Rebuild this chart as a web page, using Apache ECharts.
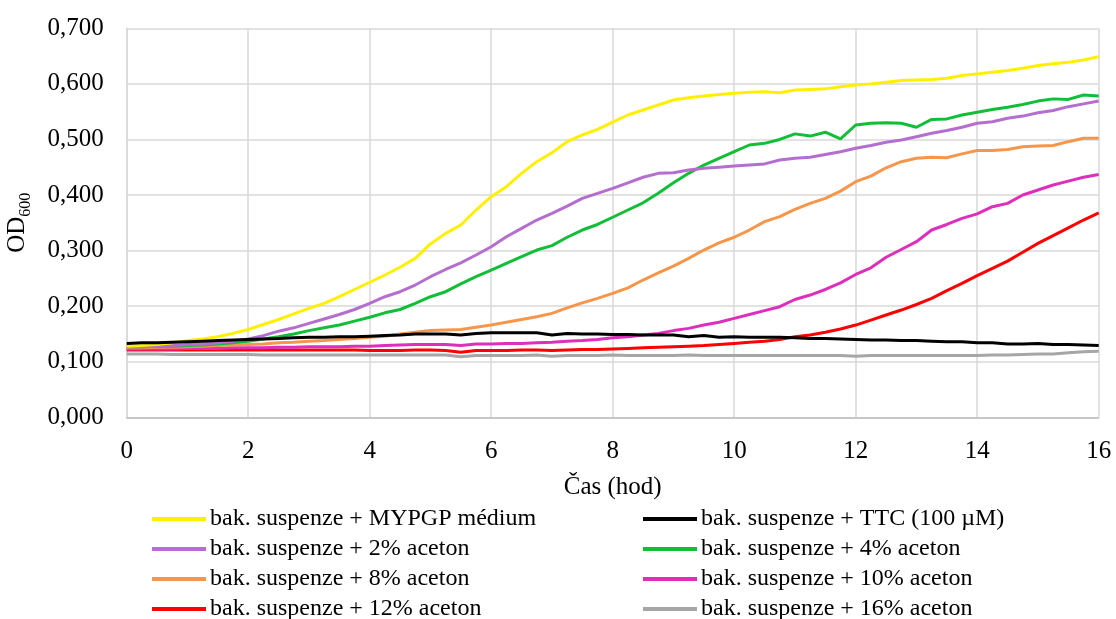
<!DOCTYPE html>
<html>
<head>
<meta charset="utf-8">
<script src="https://cdn.jsdelivr.net/npm/echarts@6/dist/echarts.min.js"></script>
<style>html,body{margin:0;padding:0;background:#fff}#c{width:1116px;height:619px}</style>
</head>
<body>
<div id="c"></div>
<script>
const times = [0,0.25,0.5,0.75,1,1.25,1.5,1.75,2,2.25,2.5,2.75,3,3.25,3.5,3.75,4,4.25,4.5,4.75,5,5.25,5.5,5.75,6,6.25,6.5,6.75,7,7.25,7.5,7.75,8,8.25,8.5,8.75,9,9.25,9.5,9.75,10,10.25,10.5,10.75,11,11.25,11.5,11.75,12,12.25,12.5,12.75,13,13.25,13.5,13.75,14,14.25,14.5,14.75,15,15.25,15.5,15.75,16];

const mypgp = [0.128,0.129,0.131,0.134,0.138,0.141,0.145,0.151,0.158,0.167,0.176,0.186,0.196,0.205,0.217,0.230,0.243,0.256,0.270,0.286,0.312,0.331,0.346,0.373,0.397,0.415,0.439,0.460,0.476,0.496,0.508,0.518,0.531,0.544,0.553,0.562,0.571,0.575,0.578,0.581,0.583,0.585,0.586,0.584,0.589,0.590,0.591,0.595,0.598,0.600,0.603,0.606,0.607,0.608,0.610,0.615,0.618,0.621,0.624,0.628,0.633,0.636,0.639,0.643,0.649];
const ttc = [0.133,0.134,0.134,0.135,0.136,0.137,0.138,0.139,0.140,0.141,0.142,0.143,0.144,0.144,0.145,0.145,0.146,0.147,0.148,0.150,0.150,0.150,0.148,0.151,0.152,0.152,0.152,0.152,0.148,0.151,0.150,0.150,0.149,0.149,0.148,0.148,0.148,0.145,0.147,0.144,0.145,0.144,0.144,0.144,0.143,0.142,0.142,0.141,0.140,0.139,0.139,0.138,0.138,0.137,0.136,0.136,0.134,0.134,0.132,0.132,0.133,0.131,0.131,0.130,0.129];
const ac2 = [0.127,0.127,0.128,0.129,0.131,0.132,0.134,0.137,0.141,0.147,0.155,0.161,0.169,0.177,0.185,0.194,0.205,0.217,0.226,0.238,0.253,0.266,0.278,0.292,0.307,0.325,0.340,0.355,0.367,0.380,0.394,0.403,0.412,0.422,0.432,0.439,0.440,0.445,0.448,0.450,0.452,0.454,0.456,0.463,0.466,0.468,0.473,0.478,0.484,0.489,0.495,0.499,0.505,0.511,0.516,0.522,0.529,0.532,0.538,0.542,0.548,0.552,0.559,0.564,0.569];
const ac4 = [0.127,0.127,0.128,0.128,0.129,0.130,0.132,0.134,0.137,0.141,0.145,0.150,0.156,0.161,0.166,0.173,0.180,0.188,0.194,0.205,0.217,0.226,0.240,0.253,0.265,0.277,0.289,0.301,0.309,0.324,0.337,0.347,0.360,0.373,0.386,0.403,0.422,0.439,0.454,0.466,0.478,0.490,0.493,0.500,0.510,0.506,0.513,0.501,0.526,0.529,0.530,0.529,0.522,0.536,0.537,0.544,0.549,0.554,0.558,0.563,0.569,0.573,0.572,0.580,0.578];
const ac8 = [0.125,0.125,0.126,0.126,0.127,0.128,0.129,0.130,0.131,0.132,0.134,0.135,0.137,0.138,0.140,0.142,0.144,0.146,0.150,0.153,0.156,0.157,0.158,0.162,0.166,0.171,0.176,0.181,0.187,0.197,0.206,0.214,0.223,0.233,0.247,0.260,0.272,0.286,0.301,0.314,0.324,0.337,0.352,0.361,0.374,0.385,0.394,0.407,0.424,0.434,0.449,0.460,0.466,0.468,0.467,0.474,0.480,0.480,0.482,0.487,0.488,0.489,0.496,0.502,0.502];
const ac10 = [0.123,0.123,0.123,0.123,0.124,0.124,0.124,0.125,0.125,0.125,0.126,0.126,0.127,0.127,0.127,0.128,0.128,0.129,0.130,0.131,0.131,0.131,0.129,0.132,0.132,0.133,0.133,0.134,0.135,0.137,0.138,0.140,0.143,0.145,0.148,0.151,0.156,0.160,0.166,0.171,0.178,0.185,0.192,0.199,0.212,0.220,0.230,0.242,0.257,0.269,0.288,0.302,0.316,0.337,0.347,0.358,0.366,0.379,0.385,0.400,0.409,0.418,0.425,0.432,0.437];
const ac12 = [0.121,0.121,0.121,0.121,0.121,0.121,0.121,0.121,0.121,0.121,0.121,0.121,0.121,0.121,0.121,0.121,0.120,0.120,0.120,0.121,0.121,0.120,0.117,0.120,0.120,0.120,0.121,0.121,0.120,0.121,0.122,0.122,0.123,0.124,0.125,0.126,0.127,0.128,0.129,0.131,0.133,0.135,0.137,0.140,0.145,0.148,0.153,0.159,0.166,0.175,0.184,0.193,0.203,0.214,0.228,0.241,0.255,0.268,0.281,0.297,0.313,0.327,0.341,0.355,0.368];
const ac16 = [0.114,0.114,0.114,0.113,0.113,0.113,0.113,0.113,0.113,0.112,0.112,0.112,0.112,0.112,0.112,0.112,0.112,0.112,0.112,0.112,0.112,0.112,0.109,0.111,0.111,0.111,0.111,0.112,0.110,0.111,0.111,0.111,0.112,0.111,0.111,0.111,0.111,0.112,0.111,0.111,0.111,0.111,0.111,0.111,0.111,0.111,0.111,0.111,0.110,0.111,0.111,0.111,0.111,0.111,0.111,0.111,0.111,0.112,0.112,0.113,0.114,0.114,0.116,0.118,0.119];

const names = ['bak. suspenze + MYPGP médium','bak. suspenze + TTC (100 µM)','bak. suspenze + 2% aceton','bak. suspenze + 4% aceton','bak. suspenze + 8% aceton','bak. suspenze + 10% aceton','bak. suspenze + 12% aceton','bak. suspenze + 16% aceton'];
const values = [mypgp, ttc, ac2, ac4, ac8, ac10, ac12, ac16];
const colors = ['#FFEF00','#000000','#B46ECF','#12BE37','#F7964A','#DE2EBC','#FF0000','#A6A6A6'];

const FONT = 'Liberation Serif';
const drawOrder = [7,6,5,4,3,2,0,1];
const series = drawOrder.map(i => ({
  name: names[i],
  type: 'line',
  symbol: 'none',
  smooth: false,
  data: times.map((t, k) => [t, values[i][k]]),
  lineStyle: { color: colors[i], width: 3 },
  itemStyle: { color: colors[i] },
  z: 2 + drawOrder.indexOf(i)
}));

const legendCommon = {
  orient: 'vertical',
  itemWidth: 54,
  itemHeight: 4,
  itemGap: 0,
  padding: 0,
  height: 130,
  icon: 'rect',
  textStyle: { fontFamily: FONT, fontSize: 24, color: '#000', lineHeight: 30, padding: [0,0,0,-1] }
};

const chart = echarts.init(document.getElementById('c'), null, { renderer: 'canvas' });
chart.setOption({
  animation: false,
  color: colors,
  grid: { left: 126.7, right: 17.3, top: 28.3, bottom: 201.7, containLabel: false, outerBoundsMode: 'none' },
  xAxis: {
    type: 'value', min: 0, max: 16, interval: 2,
    name: 'Čas (hod)', nameLocation: 'middle', nameGap: 58,
    nameTextStyle: { fontFamily: FONT, fontSize: 25, color: '#000' },
    axisLine: { show: true, lineStyle: { color: '#BFBFBF', width: 1.5 } },
    axisTick: { show: false },
    axisLabel: { fontFamily: FONT, fontSize: 25, color: '#000', margin: 22 },
    splitLine: { show: true, lineStyle: { color: '#D9D9D9', width: 1.5 } }
  },
  yAxis: {
    type: 'value', min: 0, max: 0.7, interval: 0.1,
    name: '{a|OD}{b|600}', nameLocation: 'middle', nameGap: 97, nameRotate: 90,
    nameTextStyle: { fontFamily: FONT, fontSize: 25, color: '#000',
      rich: { a: { fontFamily: FONT, fontSize: 25, color: '#000', verticalAlign: 'bottom', lineHeight: 28 },
              b: { fontFamily: FONT, fontSize: 16, color: '#000', verticalAlign: 'bottom', lineHeight: 20, padding: [0,0,-4,0] } } },
    axisLine: { show: true, lineStyle: { color: '#D9D9D9', width: 1.5 } },
    axisTick: { show: false },
    axisLabel: { fontFamily: FONT, fontSize: 25, color: '#000', margin: 23,
      formatter: v => v.toFixed(3).replace('.', ',') },
    splitLine: { show: true, lineStyle: { color: '#D9D9D9', width: 1.5 } }
  },
  legend: [
    Object.assign({}, legendCommon, { left: 152, top: 504, data: [names[0], names[2], names[4], names[6]] }),
    Object.assign({}, legendCommon, { left: 643, top: 504, data: [names[1], names[3], names[5], names[7]] })
  ],
  series: series
});
</script>
</body>
</html>
